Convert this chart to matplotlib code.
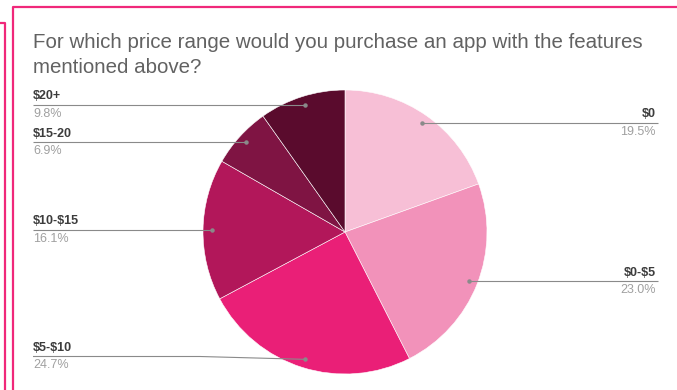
import numpy as np
import matplotlib
matplotlib.use('Agg')
import matplotlib.pyplot as plt

plt.rcParams['font.family'] = ['Liberation Sans', 'DejaVu Sans']

# survey answers
price_ranges = ['$0', '$0-$5', '$5-$10', '$10-$15', '$15-20', '$20+']
shares = [19.5, 23.0, 24.7, 16.1, 6.9, 9.8]
slice_colors = ['#f7bfd6', '#f292ba', '#ea1f77', '#b2175a', '#7f1443', '#5a0b2d']
title_lines = ['For which price range would you purchase an app with the features',
               'mentioned above?']

W, H = 677, 390
fig = plt.figure(figsize=(W / 100, H / 100), dpi=100)
ax = fig.add_axes([0, 0, 1, 1])

cx, cy, r = 345, H - 232, 142
wedges, _ = ax.pie(shares, colors=slice_colors, startangle=90, counterclock=False,
                   center=(cx, cy), radius=r,
                   wedgeprops=dict(edgecolor='white', linewidth=0.4))
ax.set_xlim(0, W)
ax.set_ylim(0, H)
ax.set_aspect('equal')
ax.axis('off')

# labels with leader lines, google sheets style
left_x, right_x = 33, 658
min_line_y = H - 356.5
for w, name, val in zip(wedges, price_ranges, shares):
    mid = np.deg2rad((w.theta1 + w.theta2) / 2)
    ax_x = cx + 0.94 * r * np.cos(mid)
    ax_y = cy + 0.94 * r * np.sin(mid)
    line_y = max(ax_y, min_line_y)
    if np.cos(mid) > 0:
        xs, ys = [ax_x, right_x], [line_y, line_y]
        tx, ha = right_x - 2, 'right'
    else:
        bend_x = ax_x - 105 if line_y != ax_y else ax_x
        xs, ys = [left_x, bend_x, ax_x], [line_y, line_y, ax_y]
        tx, ha = left_x, 'left'
    ax.plot(xs, ys, color='#8a8a8a', lw=0.8, solid_capstyle='butt')
    ax.plot(ax_x, ax_y, 'o', color='#8a8a8a', ms=2.2)
    ax.text(tx, line_y + 8.5, name, ha=ha, va='center', fontsize=9,
            fontweight='bold', color='#3c3c3c', parse_math=False)
    ax.text(tx, line_y - 9, f'{val:.1f}%', ha=ha, va='center', fontsize=9,
            color='#a0a0a0')

ax.text(33, H - 48, title_lines[0], fontsize=14.8, color='#626262', va='baseline')
ax.text(33, H - 73, title_lines[1], fontsize=14.8, color='#626262', va='baseline')

# pink card borders
pink = '#f0287a'
ax.plot([13, 13, W + 5], [-5, H - 7, H - 7], color=pink, lw=1.6)
ax.plot([-5, 5, 5], [H - 23, H - 23, -5], color=pink, lw=1.6)

fig.savefig('out.png', dpi=100)
